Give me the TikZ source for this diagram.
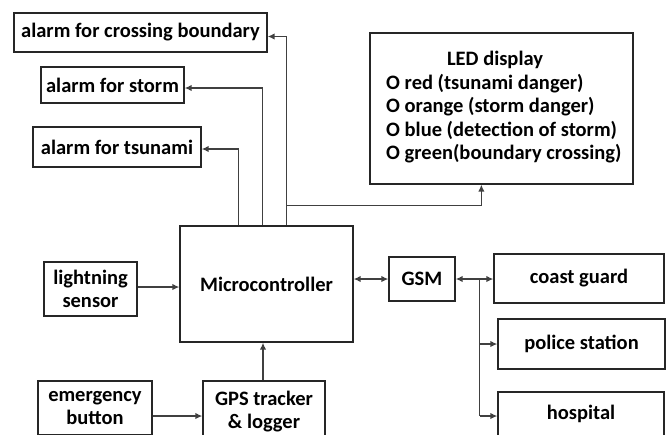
\documentclass[tikz,border=0pt]{standalone}
\usepackage{fontspec}
\setmainfont{Carlito}
\usetikzlibrary{arrows.meta,calc}
\begin{document}
\begin{tikzpicture}[x=1pt,y=-1pt,
  box/.style={draw=black!85,line width=1.3pt,inner sep=0pt,align=center,
    font=\bfseries\fontsize{20.5}{22.5}\selectfont},
  txt/.style={inner sep=0pt,font=\bfseries\fontsize{20.5}{23.5}\selectfont},
  tip/.tip={Latex[length=7pt,width=6.5pt]},
  arr/.style={draw=black!75,line width=1.4pt,-tip},
  darr/.style={draw=black!75,line width=1.4pt,tip-tip},
  ln/.style={draw=black!75,line width=1.4pt}]
\useasboundingbox (0,0) rectangle (668,434);
\clip (0,0) rectangle (668,434);
% boxes
\node[box,minimum width=253pt,minimum height=39pt] (cross) at (140.5,32.5) {alarm for crossing boundary};
\node[box,minimum width=143pt,minimum height=36pt] (storm) at (112.5,85) {alarm for storm};
\node[box,minimum width=168pt,minimum height=40pt] (tsunami) at (117,147) {alarm for tsunami};
\node[box,minimum width=263pt,minimum height=151pt] (led) at (501.5,108.5) {};
\node[txt] (ledtitle) at (495,60) {LED display};
\node[txt,anchor=west,align=left] (ledlist) at (386,118.5) {O red (tsunami danger)\\O orange (storm danger)\\O blue (detection of storm)\\O green(boundary crossing)};
\node[box,minimum width=173pt,minimum height=116pt] (micro) at (266.5,284) {Microcontroller};
\node[box,minimum width=93pt,minimum height=54pt] (light) at (90.5,289) {lightning\\sensor};
\node[box,minimum width=114pt,minimum height=54pt] (emerg) at (95,408) {emergency\\button};
\node[box,minimum width=122pt,minimum height=61pt] (gps) at (264,411.5) {GPS tracker\\\& logger};
\node[box,minimum width=66pt,minimum height=44pt] (gsm) at (422,279) {GSM};
\node[box,minimum width=170pt,minimum height=49pt] (coast) at (579,278.5) {coast guard};
\node[box,minimum width=167pt,minimum height=50pt] (police) at (581.5,344) {police station};
\node[box,minimum width=166pt,minimum height=44pt] (hosp) at (581,414) {hospital};
% connectors from microcontroller top
\coordinate (t1) at ($(micro.north west)+(59,0)$);
\coordinate (t2) at ($(micro.north west)+(83,0)$);
\coordinate (t3) at ($(micro.north west)+(107,0)$);
\draw[arr] (t1) |- ($(tsunami.east)+(0,2)$);
\draw[arr] (t2) |- ($(storm.east)+(0,3)$);
\draw[arr] (t3) |- ($(cross.east)+(0,4)$);
\coordinate (bend) at ($(t3)+(0,-20)$);
\draw[arr] (bend) -| ($(led.south west)+(112,0)$);
% inputs
\draw[arr] ($(light.east)+(0,-2)$) -- ($(light.east -| micro.west)+(0,-2)$);
\draw[arr] ($(emerg.east)+(0,8)$) -- ($(emerg.east -| gps.west)+(0,8)$);
\draw[arr] ($(gps.north)+(-1,0)$) -- ($(gps.north |- micro.south)+(-1,0)$);
% GSM links
\draw[darr] (gsm.west -| micro.east) -- (gsm.west);
\draw[darr] (gsm.east) -- (gsm.east -| coast.west);
\coordinate (br) at ($(gsm.east)+(24,0)$);
\draw[ln] (br) -- ($(br |- hosp.west)+(0,2)$);
\draw[arr] ($(br |- hosp.west)+(0,2)$) -- ($(hosp.west)+(0,2)$);
\draw[arr] (br |- police.west) -- (police.west);
\end{tikzpicture}
\end{document}
